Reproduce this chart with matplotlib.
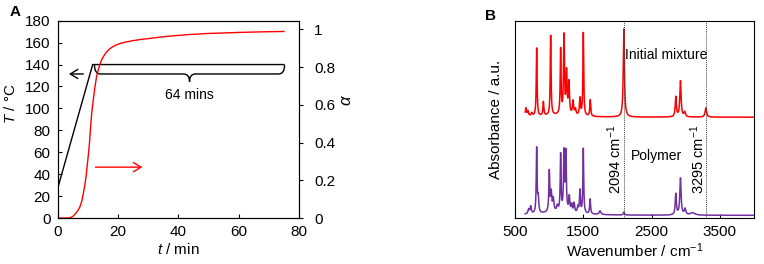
import numpy as np
import matplotlib
matplotlib.use("Agg")
import matplotlib.pyplot as plt
from matplotlib.path import Path
from matplotlib.patches import PathPatch

# ==============================
# FONTS
# ==============================

plt.rcParams["font.family"] = ["Liberation Sans", "DejaVu Sans"]
plt.rcParams["mathtext.fontset"] = "custom"
plt.rcParams["mathtext.rm"] = "Liberation Sans"
plt.rcParams["mathtext.it"] = "Liberation Sans:italic"
plt.rcParams["font.size"] = 11

# ==============================
# DATA - PANEL A
# ==============================

# temperature program (min, degC)
temp_t = [0, 11.6, 75]
temp_T = [27, 140, 140]

# conversion (min, alpha)
alpha_t = [0, 3, 4, 4.5, 5.2, 6.0, 6.7, 7.4, 8.0, 8.5, 9.0, 9.4, 9.8, 10.2,
           10.6, 10.9, 11.3, 11.8, 12.3, 12.9, 13.7, 14.6, 15.4, 16.2, 17.2,
           18.4, 19.5, 20.7, 22.3, 24.5, 27.3, 31, 35, 38.3, 44, 49.4, 55,
           60.4, 68, 75]
alpha_v = [0, 0, 0.001, 0.004, 0.011, 0.025, 0.04, 0.06, 0.09, 0.13, 0.175,
           0.22, 0.28, 0.34, 0.41, 0.48, 0.56, 0.625, 0.69, 0.75, 0.80, 0.84,
           0.862, 0.88, 0.896, 0.91, 0.918, 0.925, 0.932, 0.939, 0.946,
           0.953, 0.961, 0.966, 0.973, 0.978, 0.981, 0.984, 0.987, 0.989]

hold_start = 12.2
hold_end = 75.2
hold_label = "64 mins"

# ==============================
# DATA - PANEL B (peaks)
# ==============================

wn_min, wn_max = 650, 4000

red_offset = 303
red_peaks_pos = [660, 690, 745, 817, 915, 1022, 1168, 1217, 1255, 1290,
                 1350, 1385, 1451, 1500, 1602, 2094, 2855, 2923, 2985,
                 3295, 1150]
red_peaks_h = [25, 15, 10, 205, 42, 240, 195, 235, 125, 95,
               42, 18, 52, 250, 50, 265, 60, 108, 14,
               28, 6]
red_peaks_w = [10, 10, 12, 7, 8, 7, 7, 8, 9, 9,
               10, 10, 9, 7, 8, 10, 10, 11, 12,
               13, 250]

purple_offset = 8
purple_peaks_pos = [700, 730, 817, 840, 1002, 1030, 1060, 1120, 1168, 1217,
                    1245, 1295, 1330, 1365, 1420, 1451, 1500, 1600, 1745,
                    2094, 2855, 2923, 2990, 3100, 1150]
purple_peaks_h = [14, 22, 195, 45, 122, 55, 38, 16, 170, 175,
                  175, 45, 22, 28, 18, 68, 195, 45, 11,
                  9, 63, 110, 18, 7, 10]
purple_peaks_w = [12, 10, 7, 9, 8, 9, 11, 11, 7, 8,
                  8, 9, 9, 9, 9, 8, 7, 8, 15,
                  9, 10, 11, 13, 40, 300]

marker_lines = [2094, 3295]


def spectrum(wn, offset, pos, h, w):
    y = np.full_like(wn, float(offset))
    for p, a, g in zip(pos, h, w):
        y += a * g ** 2 / ((wn - p) ** 2 + g ** 2)
    return y


# ==============================
# FIGURE
# ==============================

fig = plt.figure(figsize=(7.64, 2.64), dpi=100)

axA = fig.add_axes([0.0755, 0.1742, 0.3159, 0.7474])
axA2 = axA.twinx()

axA.plot(temp_t, temp_T, color="black", lw=1.0)
axA2.plot(alpha_t, alpha_v, color="#ff0000", lw=1.0)

axA.set_xlim(0, 80)
axA.set_ylim(0, 180)
axA.set_xticks([0, 20, 40, 60, 80])
axA.set_yticks(np.arange(0, 181, 20))
axA.tick_params(direction="in", length=3, width=0.8, pad=5, labelsize=11)

axA2.set_ylim(0, 1.046)
axA2.set_yticks([0, 0.2, 0.4, 0.6, 0.8, 1.0])
axA2.set_yticklabels(["0", "0.2", "0.4", "0.6", "0.8", "1"])
axA2.tick_params(direction="out", length=3, width=0.8, pad=8, labelsize=11)

for ax in (axA, axA2):
    for s in ax.spines.values():
        s.set_linewidth(0.8)

axA.set_xlabel(r"$t$ / min", fontsize=11, labelpad=2)
axA.set_ylabel(r"$T$ / °C", fontsize=11)
axA.yaxis.set_label_coords(-0.165, 0.58)
axA2.set_ylabel(r"$\alpha$", fontsize=12, rotation=90)
axA2.yaxis.set_label_coords(1.165, 0.60)

# arrows
axA.annotate("", xy=(2.8, 131.4), xytext=(9.4, 131.4),
             arrowprops=dict(arrowstyle="->,head_length=0.5,head_width=0.3",
                             color="black", lw=1.0))
axA.annotate("", xy=(29, 46.4), xytext=(11.6, 46.4),
             arrowprops=dict(arrowstyle="->,head_length=0.5,head_width=0.3",
                             color="#ff0000", lw=1.0))

# brace under the hold segment
top = 139.5
mid = 131.4
tip = 124.3
dx = 2.0
xm = (hold_start + hold_end) / 2
verts = [
    (hold_start, top), (hold_start, mid), (hold_start + dx, mid),
    (xm - dx, mid), (xm, mid), (xm, tip),
    (xm, mid), (xm + dx, mid),
    (hold_end - dx, mid), (hold_end, mid), (hold_end, top),
]
codes = [Path.MOVETO, Path.CURVE3, Path.CURVE3,
         Path.LINETO, Path.CURVE3, Path.CURVE3,
         Path.CURVE3, Path.CURVE3,
         Path.LINETO, Path.CURVE3, Path.CURVE3]
axA.add_patch(PathPatch(Path(verts, codes), facecolor="none",
                        edgecolor="black", lw=1.0))
axA.text(xm, 112, hold_label, ha="center", va="center", fontsize=10)

fig.text(0.013, 0.955, "A", fontsize=11, fontweight="bold",
         ha="left", va="center")

# ==============================
# PANEL B
# ==============================

axB = fig.add_axes([0.6741, 0.1742, 0.3128, 0.7474])

wn = np.linspace(wn_min, wn_max, 4000)
red = spectrum(wn, red_offset, red_peaks_pos, red_peaks_h, red_peaks_w)
purple = spectrum(wn, purple_offset, purple_peaks_pos, purple_peaks_h,
                  purple_peaks_w)

axB.plot(wn, red, color="#ff0000", lw=1.1)
axB.plot(wn, purple, color="#7030a0", lw=1.1)

for m in marker_lines:
    axB.axvline(m, color="#444444", lw=0.7, ls=(0, (1, 1)))

axB.set_xlim(500, 4000)
axB.set_ylim(0, 593)
axB.set_xticks([500, 1500, 2500, 3500])
axB.set_yticks([])
axB.tick_params(direction="in", length=3, width=0.8, pad=5, labelsize=11)
for s in axB.spines.values():
    s.set_linewidth(0.8)

axB.set_xlabel(r"Wavenumber / cm$^{-1}$", fontsize=11, labelpad=2)
axB.set_ylabel("Absorbance / a.u.", fontsize=11, labelpad=9)

axB.text(2110, 490, "Initial mixture", ha="left", va="center", fontsize=10)
axB.text(2570, 187, "Polymer", ha="center", va="center", fontsize=10)
axB.text(1953, 175, r"2094 cm$^{-1}$", rotation=90, ha="center",
         va="center", fontsize=10.5)
axB.text(3173, 175, r"3295 cm$^{-1}$", rotation=90, ha="center",
         va="center", fontsize=10.5)

fig.text(0.635, 0.94, "B", fontsize=11, fontweight="bold",
         ha="left", va="center")

fig.savefig("out.png", dpi=100)
